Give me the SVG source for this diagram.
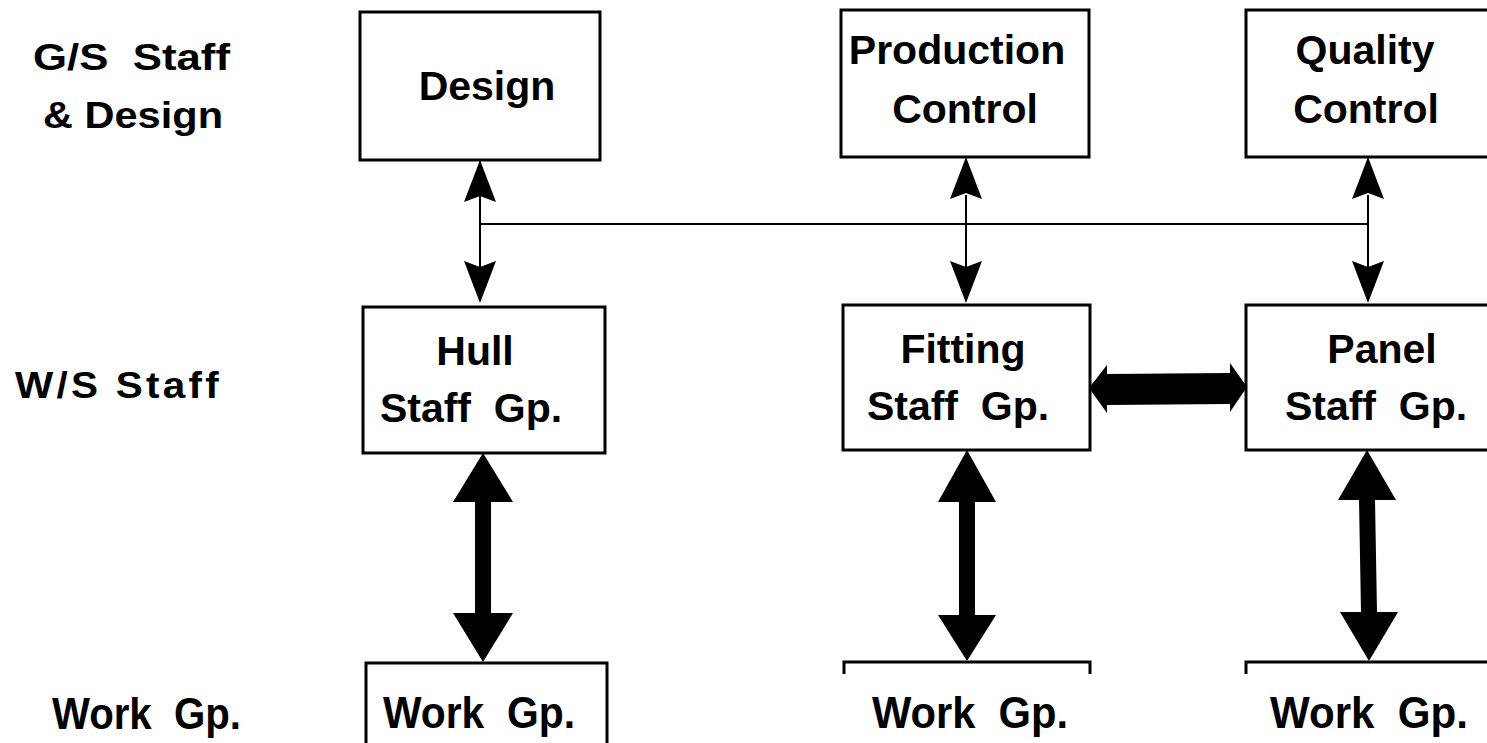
<svg xmlns="http://www.w3.org/2000/svg" width="1487" height="743" viewBox="0 0 1487 743">
<style>
text{font-family:"Liberation Sans",Arial,sans-serif;font-weight:bold;font-size:41px;fill:#000;white-space:pre}
.m{text-anchor:middle}
.w{font-size:44px}
.box{fill:#fff;stroke:#000;stroke-width:3}
.thin{stroke:#000;stroke-width:2;fill:none}
.head{fill:#000;stroke:none}
.open{fill:none;stroke:#000;stroke-width:3}
</style>
<rect width="1487" height="743" fill="#fff"/>
<g id="labels">
<text x="33" y="70" style="font-size:37px" textLength="197" lengthAdjust="spacingAndGlyphs" xml:space="preserve">G/S  Staff</text>
<text x="43" y="128" style="font-size:37px" textLength="180" lengthAdjust="spacingAndGlyphs">&amp; Design</text>
<text x="15" y="398" style="font-size:37px;letter-spacing:3px" textLength="207" lengthAdjust="spacingAndGlyphs">W/S Staff</text>
<text class="w" x="52" y="729" textLength="189" lengthAdjust="spacingAndGlyphs" xml:space="preserve">Work  Gp.</text>
</g>
<g id="design"><rect class="box" x="360" y="12" width="240" height="148"/><text class="m" x="487" y="100">Design</text></g>
<g id="production"><rect class="box" x="841" y="10" width="248" height="147"/><text class="m" x="957" y="64">Production</text><text class="m" x="965" y="123">Control</text></g>
<g id="quality"><rect class="box" x="1246" y="10" width="250" height="147"/><text class="m" x="1365" y="64">Quality</text><text class="m" x="1366" y="123">Control</text></g>
<g id="hull"><rect class="box" x="363" y="307" width="242" height="146"/><text class="m" x="475" y="365">Hull</text><text class="m" x="471" y="422" xml:space="preserve">Staff  Gp.</text></g>
<g id="fitting"><rect class="box" x="843" y="305" width="247" height="145"/><text class="m" x="963" y="363">Fitting</text><text class="m" x="958" y="420" xml:space="preserve">Staff  Gp.</text></g>
<g id="panel"><rect class="box" x="1246" y="305" width="250" height="145"/><text class="m" x="1382" y="363">Panel</text><text class="m" x="1376" y="420" xml:space="preserve">Staff  Gp.</text></g>
<g id="work-hull"><rect class="box" x="366" y="663" width="241" height="100"/><text class="m w" x="479" y="728" textLength="192" lengthAdjust="spacingAndGlyphs" xml:space="preserve">Work  Gp.</text></g>
<g id="work-fitting"><path class="open" d="M844,674 V662 H1090 V674"/><text class="m w" x="970" y="728" textLength="196" lengthAdjust="spacingAndGlyphs" xml:space="preserve">Work  Gp.</text></g>
<g id="work-panel"><path class="open" d="M1246,674 V662 H1490"/><text class="m w" x="1369" y="728" textLength="198" lengthAdjust="spacingAndGlyphs" xml:space="preserve">Work  Gp.</text></g>
<g id="connectors">
<path class="thin" d="M480,195 V268 M966,195 V268 M1368,195 V268 M480,224 H1368"/>
<path class="head" d="M480,160 L464,202 L480,196 L496,202 Z"/>
<path class="head" d="M480,303 L464,261 L480,267 L496,261 Z"/>
<path class="head" d="M966,157 L950,199 L966,193 L982,199 Z"/>
<path class="head" d="M966,303 L950,261 L966,267 L982,261 Z"/>
<path class="head" d="M1368,157 L1352,199 L1368,193 L1384,199 Z"/>
<path class="head" d="M1368,303 L1352,261 L1368,267 L1384,261 Z"/>
<path class="head" d="M483,453 L453,502 L475,502 L475,613 L453,613 L483,662 L513,613 L491,613 L491,502 L513,502 Z"/>
<path class="head" d="M967,450 L938,502 L959,502 L959,615 L938,615 L967,661 L996,615 L975,615 L975,502 L996,502 Z"/>
<path class="head" d="M1367,450 L1338,500 L1359,500 L1361,612 L1340,612 L1369,661 L1398,612 L1377,612 L1375,500 L1396,500 Z"/>
<path class="head" d="M1089,388 L1107,365 L1107,374 L1230,373 L1230,363 L1247,387 L1230,412 L1230,404 L1107,405 L1107,413 Z"/>
</g>
</svg>
